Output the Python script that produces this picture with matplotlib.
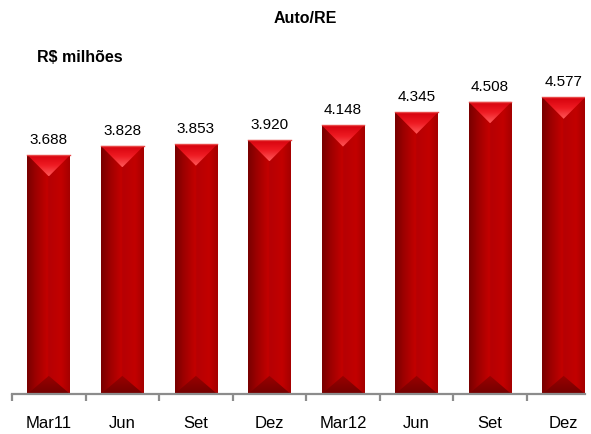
import matplotlib
matplotlib.use('Agg')
import matplotlib.pyplot as plt
import numpy as np
from matplotlib.colors import LinearSegmentedColormap
from matplotlib.patches import Polygon

categories = ['Mar11', 'Jun', 'Set', 'Dez', 'Mar12', 'Jun', 'Set', 'Dez']
values = [3.688, 3.828, 3.853, 3.920, 4.148, 4.345, 4.508, 4.577]
value_labels = ['3.688', '3.828', '3.853', '3.920', '4.148', '4.345', '4.508', '4.577']

plt.rcParams['font.family'] = ['Liberation Sans', 'DejaVu Sans']

fig = plt.figure(figsize=(5.91, 4.34), dpi=100, facecolor='white')
ax = fig.add_axes([0.0203, 0.0922, 0.9695, 0.7465])

width = 0.58
x = np.arange(len(categories))
bars = ax.bar(x, values, width=width, color='none', edgecolor='none', zorder=2)

body_cmap = LinearSegmentedColormap.from_list('body', [
    (0.0, '#780000'), (0.2, '#9c0000'), (0.48, '#c40000'),
    (0.5, '#b60004'), (0.8, '#c20000'), (1.0, '#a40000')])
top_cmap = LinearSegmentedColormap.from_list('top', ['#d4000c', '#ee1a22', '#ff5a5a'])
bot_cmap = LinearSegmentedColormap.from_list('bot', ['#9a0000', '#740000'])
hgrad = np.linspace(0, 1, 256).reshape(1, -1)
vgrad = np.linspace(0, 1, 256).reshape(-1, 1)

depth = 0.33
bot_depth = 0.28
for bar in bars:
    x0 = bar.get_x()
    x1 = x0 + bar.get_width()
    xc = x0 + bar.get_width() / 2
    h = bar.get_height()
    im = ax.imshow(hgrad, cmap=body_cmap, aspect='auto', extent=[x0, x1, 0, h],
                   zorder=2, interpolation='bicubic')
    im.set_clip_path(bar)
    # top bevel, lighter towards the apex
    tri = Polygon([(x0, h), (x1, h), (xc, h - depth)], closed=True,
                  facecolor='none', edgecolor='none')
    ax.add_patch(tri)
    im = ax.imshow(vgrad, cmap=top_cmap, aspect='auto', origin='upper',
                   extent=[x0, x1, h - depth, h], zorder=3, interpolation='bicubic')
    im.set_clip_path(tri)
    ax.plot([x0, x1], [h, h], color='#e84848', lw=1, zorder=4)
    # bottom bevel, darker
    tri = Polygon([(x0, 0), (x1, 0), (xc, bot_depth)], closed=True,
                  facecolor='none', edgecolor='none')
    ax.add_patch(tri)
    im = ax.imshow(vgrad, cmap=bot_cmap, aspect='auto', origin='upper',
                   extent=[x0, x1, 0, bot_depth], zorder=3, interpolation='bicubic')
    im.set_clip_path(tri)

for xi, v, lab in zip(x, values, value_labels):
    ax.annotate(lab, (xi, v), xytext=(0, 6), textcoords='offset points',
                ha='center', va='bottom', fontsize=11, color='black')

ax.set_xlim(-0.5, len(categories) - 1 + width / 2)
ax.set_ylim(0, 5.0)

for side in ['top', 'right', 'left']:
    ax.spines[side].set_visible(False)
ax.spines['bottom'].set_color('#8c8c8c')
ax.spines['bottom'].set_linewidth(1.6)
ax.spines['bottom'].set_zorder(5)
ax.set_yticks([])

ax.set_xticks(x)
ax.set_xticklabels(categories, fontsize=12)
ax.set_xticks(np.arange(-0.5, len(categories) - 0.5, 1.0), minor=True)
ax.tick_params(axis='x', which='major', length=0, pad=16)
ax.tick_params(axis='x', which='minor', length=5, width=1.6, color='#8c8c8c')

fig.text(0.516, 0.958, 'Auto/RE', ha='center', va='center', fontsize=11.5, fontweight='bold')
fig.text(0.063, 0.868, 'R$ milhões', ha='left', va='center', fontsize=11.5, fontweight='bold')

fig.savefig('out.png', dpi=100, facecolor='white')
